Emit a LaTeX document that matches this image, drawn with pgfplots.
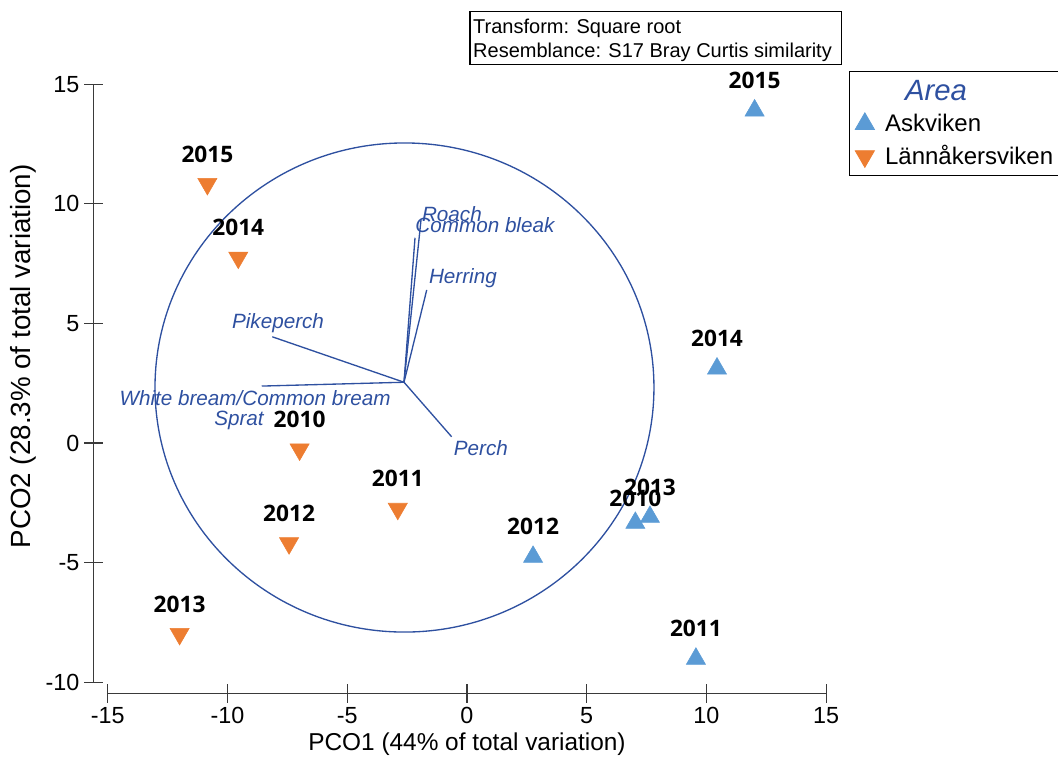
\documentclass[border=0pt]{standalone}
\usepackage{pgfplots}
\pgfplotsset{compat=1.18}
\usepackage{fontspec}
\setmainfont{Liberation Sans}
\newfontfamily\yearfont{Open Sans}
\definecolor{askblue}{HTML}{5B9BD5}
\definecolor{lanorange}{HTML}{ED7D31}
\definecolor{vecblue}{HTML}{2E50A0}
\definecolor{axgray}{HTML}{3A3A3A}

\pgfplotstableread{
x y label
12.01 13.90 2015
10.44 3.11 2014
7.64 -3.09 2013
2.76 -4.76 2012
9.56 -9.02 2011
}\askdata
\pgfplotstableread{
x y label
7.03 -3.34 2010
}\askdatab
\pgfplotstableread{
x y label
-10.84 10.83 2015
-9.55 7.75 2014
-12.00 -7.98 2013
-7.43 -4.19 2012
-2.89 -2.75 2011
-6.99 -0.27 2010
}\landata

\tikzset{yearstyle/.style={anchor=center, yshift=#1, text=black,
     font=\yearfont\bfseries\fontsize{17}{20}\selectfont}}

\begin{document}
\begin{tikzpicture}
\pgfplotsset{
  unitset/.style={x=17.96pt, y=17.94pt, scale only axis, anchor=south west},
}
% main data axis
\begin{axis}[unitset, name=main, at={(0pt,0pt)},
  xmin=-19.5, xmax=24.68, ymin=-13.38, ymax=18.52,
  hide axis, clip=false,
  legend style={at={(0.8025,0.907)}, anchor=north west, draw=black, line width=0.6pt,
    font=\fontsize{18}{21}\selectfont, row sep=5pt, inner xsep=3pt, inner ysep=4.5pt,
    cells={anchor=west}},
]
% circle
\draw[vecblue, line width=1pt] (axis cs:-2.61,2.32) ellipse [x radius=187.1pt, y radius=183.4pt];
% vectors
\addplot[vecblue, line width=1pt, forget plot] coordinates {(-2.63,2.54) (-8.13,4.44)};
\addplot[vecblue, line width=1pt, forget plot] coordinates {(-2.63,2.54) (-8.57,2.38)};
\addplot[vecblue, line width=1pt, forget plot] coordinates {(-2.63,2.54) (-2.17,8.58)};
\addplot[vecblue, line width=1pt, forget plot] coordinates {(-2.63,2.54) (-1.92,9.32)};
\addplot[vecblue, line width=1pt, forget plot] coordinates {(-2.63,2.54) (-1.68,6.40)};
\addplot[vecblue, line width=1pt, forget plot] coordinates {(-2.63,2.54) (-0.64,0.26)};
% vector labels
\begin{scope}[every node/.style={text=vecblue, font=\itshape\fontsize{15.5}{18}\selectfont, anchor=base, inner sep=0pt}]
\node at (axis cs:-0.63,9.24) {Roach};
\node at (axis cs:0.75,8.82) {Common bleak};
\node at (axis cs:-0.17,6.68) {Herring};
\node at (axis cs:-7.89,4.80) {Pikeperch};
\node at (axis cs:-8.85,1.55) {White bream/Common bream};
\node at (axis cs:-9.52,0.75) {Sprat};
\node at (axis cs:0.58,-0.53) {Perch};
\end{scope}
% transform box
\draw[black, line width=0.8pt] (axis cs:0.125,15.84) rectangle (axis cs:15.62,18.02);
\node[anchor=base west, inner sep=0pt, font=\fontsize{15}{18}\selectfont] at (axis cs:0.25,17.14) {Transform: Square root};
\node[anchor=base west, inner sep=0pt, font=\fontsize{15}{18}\selectfont] at (axis cs:0.25,16.10) {Resemblance: S17 Bray Curtis similarity};
% legend title
\addlegendimage{empty legend}
\addlegendentry{\hspace{21pt}\textcolor{vecblue}{\itshape\fontsize{22}{24}\selectfont Area}}
% data
\addplot[only marks, mark=triangle*, mark size=8.3pt, color=askblue,
  nodes near coords, point meta=explicit symbolic,
  every node near coord/.style={yearstyle=22.5pt}]
  table[x=x, y=y, meta=label] {\askdata};
\addlegendentry{\hspace{6pt}Askviken}
\addplot[only marks, mark=triangle*, mark size=8.3pt, mark options={rotate=180}, color=lanorange,
  nodes near coords, point meta=explicit symbolic,
  every node near coord/.style={yearstyle=22.5pt}]
  table[x=x, y=y, meta=label] {\landata};
\addlegendentry{\hspace{6pt}Lännåkersviken}
\addplot[only marks, mark=triangle*, mark size=8.3pt, color=askblue, forget plot,
  nodes near coords, point meta=explicit symbolic,
  every node near coord/.style={yearstyle=18.75pt}]
  table[x=x, y=y, meta=label] {\askdatab};
\end{axis}

% x axis
\begin{axis}[unitset, at={(80.82pt,52.38pt)},
  xmin=-15, xmax=15, ymin=-10.46, ymax=15,
  axis x line=bottom, axis y line=none, axis line style={-, axgray, line width=0.9pt},
  xtick={-15,-10,...,15}, tick align=center, major tick length=14pt,
  tick style={axgray, line width=0.9pt},
  ticklabel style={font=\fontsize{17.5}{20}\selectfont},
  /pgf/number format/assume math mode=true,
  xlabel={PCO1 (44\% of total variation)},
  xlabel style={font=\fontsize{18.3}{22}\selectfont},
]
\end{axis}

% y axis
\begin{axis}[unitset, at={(70.04pt,60.64pt)},
  xmin=-15.6, xmax=15, ymin=-10, ymax=15,
  axis y line=left, axis x line=none, axis line style={-, axgray, line width=0.9pt},
  ytick={-10,-5,...,15}, tick align=center, major tick length=14pt,
  tick style={axgray, line width=0.9pt},
  ticklabel style={font=\fontsize{17.5}{20}\selectfont},
  /pgf/number format/assume math mode=true,
  ylabel={PCO2 (28.3\% of total variation)},
  ylabel style={font=\fontsize{20.8}{24}\selectfont, at={(ticklabel cs:0.545)}},
]
\end{axis}

\pgfresetboundingbox
\path[use as bounding box] (main.south west) rectangle (main.north east);
\end{tikzpicture}
\end{document}
